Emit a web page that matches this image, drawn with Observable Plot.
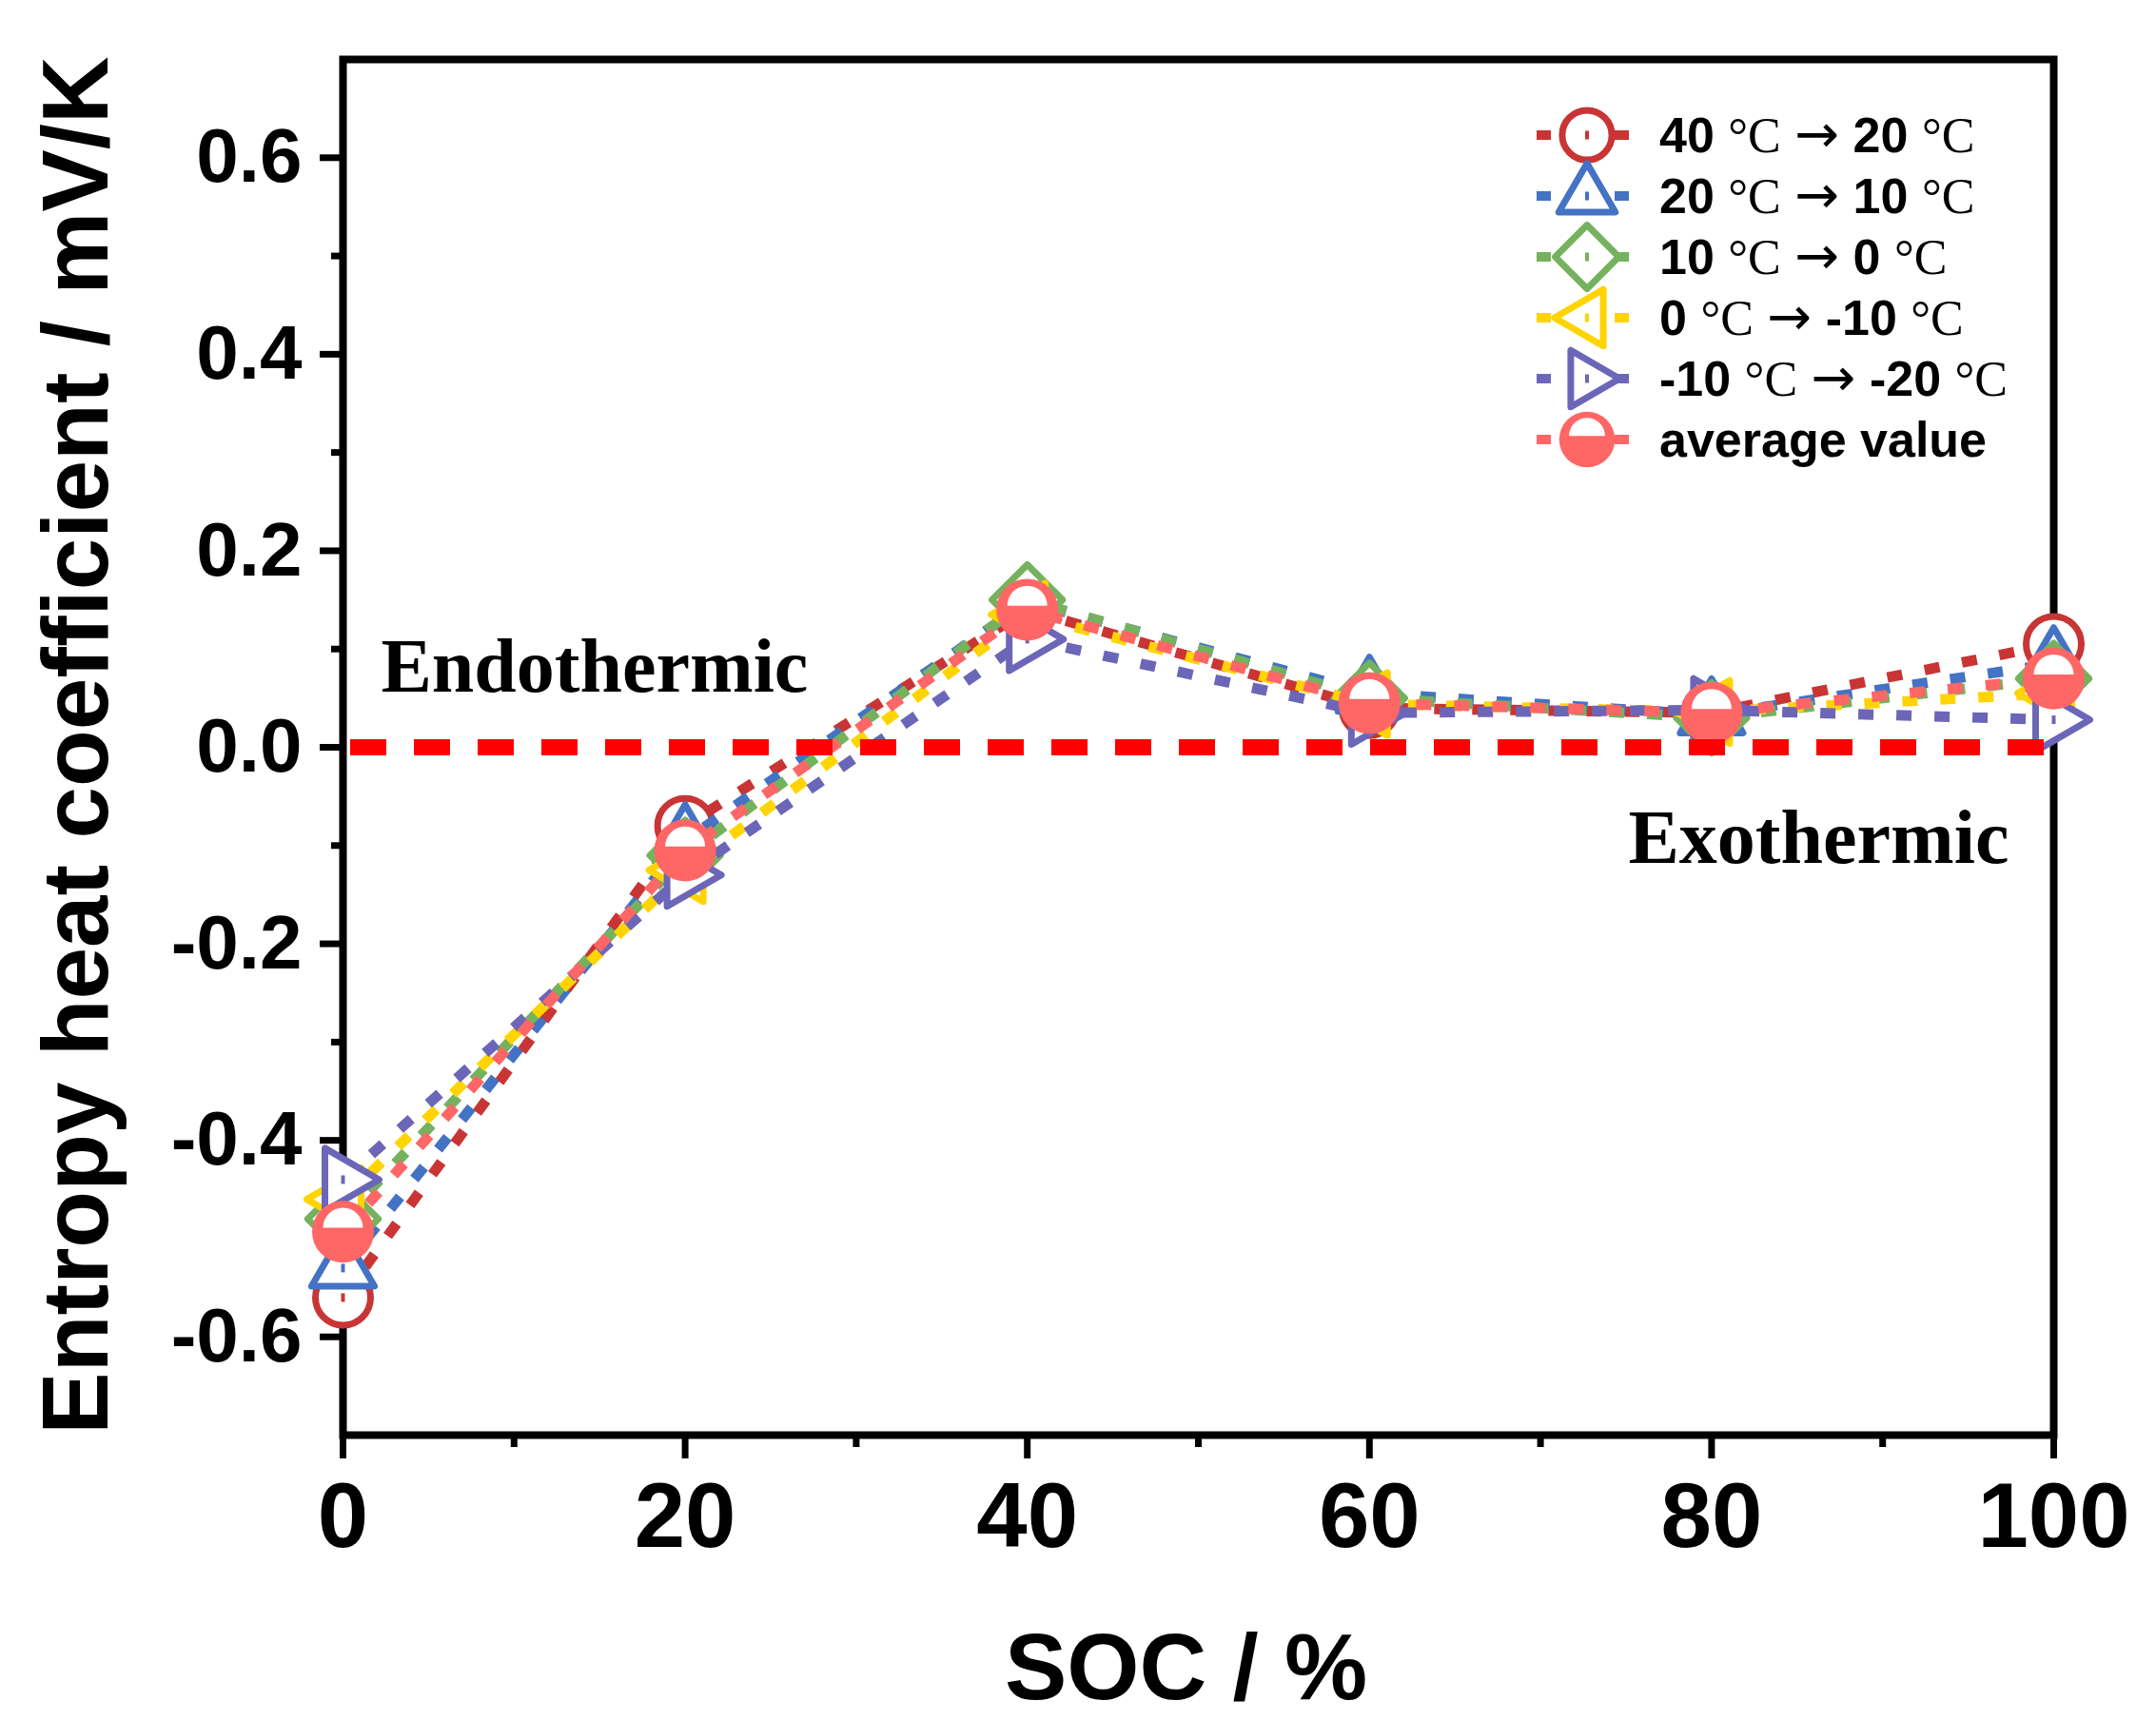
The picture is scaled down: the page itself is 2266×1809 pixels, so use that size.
<!DOCTYPE html>
<html>
<head>
<meta charset="utf-8">
<script src="https://cdn.jsdelivr.net/npm/d3@7"></script>
<script src="https://cdn.jsdelivr.net/npm/@observablehq/plot@0.6"></script>
<style>
  body { margin: 0; background: white; }
</style>
</head>
<body>
<div id="chart"></div>
<script>
// datos (SOC en %, coeficiente en mV/K)
const soc = [0, 20, 40, 60, 80, 100];
const seriesNames = ["40 °C → 20 °C", "20 °C → 10 °C", "10 °C → 0 °C", "0 °C → -10 °C", "-10 °C → -20 °C", "average value"];
const v40to20 = [-0.56, -0.08, 0.14, 0.04, 0.035, 0.105];
const v20to10 = [-0.53, -0.095, 0.148, 0.055, 0.033, 0.085];
const v10to0 = [-0.48, -0.11, 0.15, 0.05, 0.03, 0.07];
const v0toM10 = [-0.46, -0.125, 0.135, 0.044, 0.036, 0.055];
const vM10toM20 = [-0.44, -0.13, 0.11, 0.035, 0.038, 0.028];
const vAverage = [-0.493, -0.105, 0.14, 0.045, 0.035, 0.07];
const xTicks = [0, 20, 40, 60, 80, 100];
const xMinor = [10, 30, 50, 70, 90];
const yTicks = [-0.6, -0.4, -0.2, 0, 0.2, 0.4, 0.6];
const yMinor = [-0.5, -0.3, -0.1, 0.1, 0.3, 0.5];

const seriesValues = [v40to20, v20to10, v10to0, v0toM10, vM10toM20, vAverage];
const rows = seriesValues.flatMap((vals, i) => vals.map((v, j) => ({soc: soc[j], value: v, series: seriesNames[i]})));

const colors = ["#C93434", "#4472C4", "#75B25E", "#FFD400", "#6C66B8", "#FF6666"];
const sans = "'Liberation Sans', Arial, Helvetica, sans-serif";
const serif = "'Liberation Serif', 'Times New Roman', 'DejaVu Serif', serif";

// simbolos tipo Origin (size = pi r^2)
const unit = s => Math.sqrt(s / Math.PI);
const symCircle = {draw(c, s) { const r = unit(s); c.moveTo(r, 0); c.arc(0, 0, r, 0, 2 * Math.PI); }};
const symTriUp = {draw(c, s) { const r = unit(s); c.moveTo(0, -1.31 * r); c.lineTo(1.14 * r, 0.655 * r); c.lineTo(-1.14 * r, 0.655 * r); c.closePath(); }};
const symTriLeft = {draw(c, s) { const r = unit(s); c.moveTo(-1.31 * r, 0); c.lineTo(0.655 * r, -1.14 * r); c.lineTo(0.655 * r, 1.14 * r); c.closePath(); }};
const symTriRight = {draw(c, s) { const r = unit(s); c.moveTo(1.31 * r, 0); c.lineTo(-0.655 * r, -1.14 * r); c.lineTo(-0.655 * r, 1.14 * r); c.closePath(); }};
const symDiamond = {draw(c, s) { const r = unit(s) * 1.28; c.moveTo(0, -r); c.lineTo(r, 0); c.lineTo(0, r); c.lineTo(-r, 0); c.closePath(); }};
const symTopHalf = {draw(c, s) { const r = unit(s); const o = -0.2 * r; c.moveTo(r, o); c.arc(0, o, r, 0, Math.PI, true); c.closePath(); }};
const symDash = {draw(c, s) { c.rect(-2, -4.5, 4, 9); }};
const symbols = [symCircle, symTriUp, symDiamond, symTriLeft, symTriRight];

const R = 29;

let seriesMarks = [];
seriesNames.forEach((name, i) => {
  const d = rows.filter(r => r.series === name);
  seriesMarks.push(Plot.line(d, {x: "soc", y: "value", stroke: colors[i], strokeWidth: 11, strokeDasharray: "16,24", strokeLinecap: "butt"}));
  if (i < 5) {
    seriesMarks.push(Plot.dot(d, {x: "soc", y: "value", symbol: symbols[i], r: R, stroke: colors[i], strokeWidth: 7, fill: "white", strokeLinejoin: "round"}));
    seriesMarks.push(Plot.dot(d, {x: "soc", y: "value", symbol: symDash, r: 5, fill: colors[i], stroke: "none"}));
  } else {
    seriesMarks.push(Plot.dot(d, {x: "soc", y: "value", r: 32.5, fill: colors[i], stroke: "none"}));
    seriesMarks.push(Plot.dot(d, {x: "soc", y: "value", symbol: symTopHalf, r: 21, fill: "white", stroke: "none"}));
  }
});

let chart = Plot.plot({
  width: 2266,
  height: 1809,
  marginLeft: 360,
  marginRight: 108,
  marginTop: 62,
  marginBottom: 301,
  style: {fontFamily: sans, background: "white", overflow: "visible"},
  x: {domain: [0, 100], label: null},
  y: {domain: [-0.7, 0.7], label: null},
  marks: [
    Plot.frame({stroke: "black", strokeWidth: 8}),
    Plot.axisX({ticks: xTicks, tickFormat: d => String(d), tickSize: 25, tickPadding: 24, strokeWidth: 7, fontSize: 96, fontWeight: "bold", fill: "black", label: null}),
    Plot.axisX({ticks: xMinor, tickFormat: () => "", tickSize: 13, strokeWidth: 7, label: null}),
    Plot.axisY({ticks: yTicks, tickFormat: d => d.toFixed(1), tickSize: 24, tickPadding: 19, strokeWidth: 7, fontSize: 80, fontWeight: "bold", fill: "black", label: null}),
    Plot.axisY({ticks: yMinor, tickFormat: () => "", tickSize: 12, strokeWidth: 7, label: null}),
    ...seriesMarks,
    Plot.ruleY([0], {stroke: "#FF0000", strokeWidth: 17, strokeDasharray: "38,29", strokeDashoffset: -8}),
    Plot.text(["Endothermic"], {frameAnchor: "top-left", dx: 40, dy: 664, textAnchor: "start", lineAnchor: "bottom", fontFamily: serif, fontWeight: "bold", fontSize: 80, fill: "black"}),
    Plot.text(["Exothermic"], {frameAnchor: "top-left", dx: 1351, dy: 844, textAnchor: "start", lineAnchor: "bottom", fontFamily: serif, fontWeight: "bold", fontSize: 80, fill: "black"}),
    Plot.text(["SOC / %"], {frameAnchor: "bottom", dx: -13, dy: 277, textAnchor: "middle", lineAnchor: "bottom", fontSize: 98, fontWeight: "bold", fill: "black"}),
    Plot.text(["Entropy heat coefficient / mV/K"], {frameAnchor: "left", dx: -248, dy: -2, rotate: -90, textAnchor: "middle", lineAnchor: "bottom", fontSize: 98, fontWeight: "bold", fill: "black"})
  ]
});

// leyenda dentro del grafico
const lg = d3.select(chart).append("g").attr("text-anchor", "start");
const legX = 1668, k = 0.9;
seriesNames.forEach((name, i) => {
  const cy = 142 + i * 64;
  lg.append("line").attr("x1", 1615).attr("x2", 1712).attr("y1", cy).attr("y2", cy)
    .attr("stroke", colors[i]).attr("stroke-width", 10).attr("stroke-dasharray", "15,67");
  const g = lg.append("g").attr("transform", `translate(${legX},${cy})`);
  if (i < 5) {
    g.append("path").attr("d", d3.symbol(symbols[i], Math.PI * (R * k) ** 2)())
      .attr("fill", "white").attr("stroke", colors[i]).attr("stroke-width", 7).attr("stroke-linejoin", "round");
    g.append("path").attr("d", d3.symbol(symDash, 1)()).attr("fill", colors[i]);
  } else {
    g.append("circle").attr("r", 32.5 * k).attr("fill", colors[i]);
    g.append("path").attr("d", d3.symbol(symTopHalf, Math.PI * (21 * k) ** 2)()).attr("fill", "white");
  }
  const t = lg.append("text").attr("x", 1744).attr("y", cy + 18).attr("text-anchor", "start")
    .attr("font-size", 52).attr("font-weight", "bold").attr("font-family", sans).attr("fill", "black");
  name.split(/(°C|→)/).filter(s => s.length).forEach(tok => {
    const ts = t.append("tspan").text(tok);
    if (tok === "°C") ts.attr("font-family", serif).attr("font-weight", "normal");
    if (tok === "→") ts.attr("font-family", "'DejaVu Sans', sans-serif").attr("font-weight", "normal").attr("font-size", 56);
  });
});

d3.select('#chart').append(() => chart);
</script>
</body>
</html>
